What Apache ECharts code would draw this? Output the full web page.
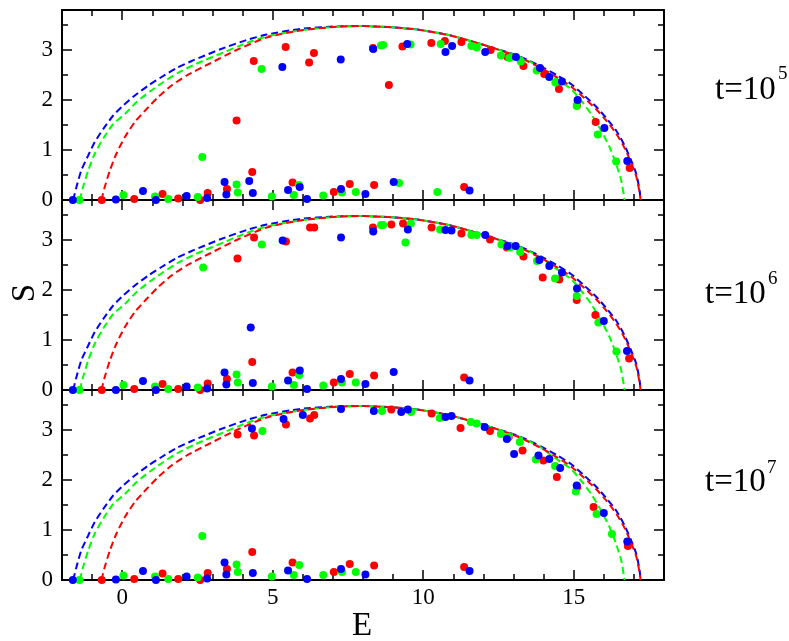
<!DOCTYPE html>
<html>
<head>
<meta charset="utf-8">
<script src="https://cdn.jsdelivr.net/npm/echarts@6/dist/echarts.min.js"></script>
<style>
html,body{margin:0;padding:0;background:#fff;}
#chart{width:789px;height:641px;}
</style>
</head>
<body>
<div id="chart"></div>
<script>
// ---- axis ticks ----
const xMajorTicks = [0, 5, 10, 15];
const xMinorTicks = [-1, 1, 2, 3, 4, 6, 7, 8, 9, 11, 12, 13, 14, 16, 17];
const yMajorTicks = [0, 1, 2, 3];
const yMinorTicks = [0.5, 1.5, 2.5, 3.5];
const panelExponents = ['5', '6', '7'];

// ---- dashed curves (E, S), same in every panel ----
const blueCurve = [[-1.63,0],[-1.52,0.26],[-1.36,0.59],[-1.13,0.89],[-0.91,1.16],[-0.63,1.42],[-0.30,1.69],[0.03,1.89],[0.42,2.09],[0.87,2.29],[1.31,2.46],[1.81,2.64],[2.31,2.78],[2.75,2.89],[3.24,3.01],[4.13,3.20],[4.80,3.31],[5.91,3.42],[7.02,3.47],[7.91,3.48],[8.80,3.46],[9.80,3.41],[10.91,3.29],[12.02,3.10],[13.13,2.89],[13.47,2.80],[13.91,2.67],[14.46,2.49],[14.91,2.32],[15.35,2.09],[15.74,1.87],[16.08,1.64],[16.41,1.39],[16.69,1.09],[16.91,0.79],[17.08,0.52],[17.19,0.19],[17.22,0]];
const greenCurve = [[-1.41,0],[-1.30,0.26],[-1.13,0.59],[-0.91,0.93],[-0.63,1.23],[-0.30,1.52],[0.09,1.72],[0.48,1.96],[0.92,2.17],[1.37,2.36],[1.87,2.55],[2.37,2.70],[2.75,2.80],[3.24,2.92],[4.13,3.14],[4.80,3.27],[5.91,3.39],[7.02,3.46],[7.91,3.48],[8.80,3.46],[9.80,3.41],[10.91,3.29],[12.02,3.10],[13.13,2.88],[13.91,2.65],[14.35,2.45],[14.91,2.22],[15.24,1.99],[15.58,1.72],[15.91,1.39],[16.19,1.06],[16.41,0.72],[16.58,0.39],[16.69,0]];
const redCurve = [[-0.69,0],[-0.58,0.26],[-0.41,0.59],[-0.19,0.93],[0.09,1.26],[0.42,1.56],[0.81,1.82],[1.20,2.06],[1.64,2.29],[2.14,2.49],[2.91,2.73],[3.80,3.00],[4.80,3.25],[5.91,3.39],[7.02,3.46],[7.91,3.48],[8.80,3.46],[9.80,3.41],[10.91,3.29],[12.02,3.10],[13.13,2.87],[13.91,2.64],[14.46,2.45],[14.91,2.27],[15.35,2.04],[15.74,1.82],[16.08,1.59],[16.41,1.33],[16.69,1.04],[16.91,0.74],[17.08,0.47],[17.19,0.15],[17.22,0]];

// ---- panel 1 (t=10^5) points ----
const p1Red = [[-0.68,0],[0.40,0.02],[1.34,0.12],[1.86,0.03],[2.59,0],[2.84,0.14],[3.48,0.22],[3.80,1.59],[4.32,0.56],[4.37,2.78],[5.43,3.06],[5.66,0.35],[6.21,2.75],[6.37,2.94],[7.03,0.16],[7.56,0.32],[8.33,3.04],[8.37,0.30],[8.86,2.30],[9.31,3.07],[10.27,3.14],[10.72,3.18],[11.27,3.16],[11.36,0.26],[12.24,3.00],[12.80,2.86],[13.33,2.68],[14.02,2.52],[14.51,2.22],[15.11,1.89],[15.73,1.56],[16.86,0.64]];
const p1Green = [[-1.42,0],[0.04,0.10],[1.09,0.07],[1.53,0.02],[2.51,0.06],[2.66,0.86],[3.80,0.31],[3.84,0.15],[4.63,2.62],[4.97,0.07],[5.70,0.10],[5.87,0.30],[6.68,0.09],[7.30,0.15],[7.76,0.16],[8.60,3.09],[8.67,3.10],[9.20,0.34],[9.58,3.11],[10.47,0.16],[10.58,3.12],[11.60,3.08],[11.78,3.05],[12.58,2.89],[12.86,2.84],[13.24,2.77],[13.77,2.59],[14.39,2.35],[15.10,1.88],[15.80,1.31],[16.41,0.77]];
const p1Blue = [[-1.64,0],[-0.21,0.01],[0.69,0.18],[1.12,0],[2.14,0.08],[2.82,0.04],[3.40,0.36],[3.46,0.11],[4.22,0.38],[4.34,0.14],[5.32,2.66],[5.51,0.20],[5.90,0.26],[6.14,0.02],[7.26,2.81],[7.27,0.22],[8.08,0.12],[8.34,3.02],[9.02,0.36],[9.47,3.12],[10.74,2.96],[10.96,3.08],[11.54,0.19],[12.06,2.96],[13.08,2.86],[13.88,2.64],[14.19,2.46],[14.61,2.37],[15.13,2.00],[16.02,1.44],[16.78,0.78]];

// ---- panel 2 (t=10^6) points ----
const p2Red = [[-0.68,0],[0.40,0.02],[1.34,0.12],[1.86,0.02],[2.59,0],[2.84,0.13],[3.48,0.22],[3.83,2.63],[4.32,0.56],[4.38,3.05],[5.44,2.97],[5.66,0.35],[6.24,3.25],[6.38,3.25],[7.03,0.15],[7.56,0.32],[8.33,3.25],[8.37,0.29],[8.94,3.31],[9.33,3.33],[10.28,3.25],[11.27,3.13],[11.36,0.25],[12.22,3.01],[12.78,2.85],[13.33,2.67],[13.97,2.25],[14.52,2.21],[15.10,1.80],[15.72,1.50],[16.84,0.63]];
const p2Green = [[-1.42,0],[0.04,0.10],[1.09,0.07],[1.53,0.02],[2.51,0.05],[2.69,2.45],[3.80,0.31],[3.84,0.15],[4.64,2.91],[4.97,0.07],[5.70,0.10],[5.88,0.30],[6.68,0.09],[7.30,0.15],[7.76,0.15],[8.60,3.30],[8.67,3.30],[9.41,2.95],[9.59,3.33],[10.56,3.21],[11.60,3.10],[11.77,3.10],[12.60,2.91],[12.88,2.85],[13.22,2.76],[13.78,2.58],[14.38,2.23],[15.10,1.88],[15.82,1.35],[16.42,0.77]];
const p2Blue = [[-1.64,0],[-0.21,0],[0.69,0.18],[1.12,0],[2.14,0.07],[2.82,0.03],[3.40,0.35],[3.46,0.11],[4.27,1.25],[4.34,0.14],[5.33,2.99],[5.51,0.19],[5.90,0.39],[6.14,0.02],[7.27,3.05],[7.27,0.22],[8.08,0.12],[8.34,3.17],[9.02,0.36],[9.49,3.21],[10.74,3.20],[10.94,3.19],[11.54,0.19],[12.06,3.10],[12.80,2.88],[13.07,2.88],[13.86,2.60],[14.19,2.48],[14.61,2.35],[15.11,2.03],[16.00,1.38],[16.77,0.78]];

// ---- panel 3 (t=10^7) points ----
const p3Red = [[-0.68,0],[0.40,0.02],[1.34,0.13],[1.86,0.02],[2.59,0],[2.84,0.14],[3.48,0.22],[3.83,2.91],[4.32,0.56],[4.38,2.89],[5.44,3.11],[5.66,0.35],[6.24,3.23],[6.38,3.30],[7.03,0.16],[7.56,0.32],[8.37,0.29],[8.94,3.41],[10.28,3.33],[11.24,3.04],[11.36,0.26],[12.22,2.98],[12.84,2.86],[13.30,2.59],[13.99,2.39],[14.44,2.06],[15.12,1.86],[15.66,1.46],[16.80,0.68]];
const p3Green = [[-1.42,0],[0.04,0.09],[1.09,0.07],[1.53,0.02],[2.51,0.05],[2.66,0.88],[3.80,0.31],[3.84,0.16],[4.66,2.98],[4.97,0.07],[5.70,0.10],[5.88,0.30],[6.68,0.10],[7.30,0.16],[7.76,0.16],[8.63,3.38],[9.60,3.36],[10.55,3.24],[11.58,3.16],[11.77,3.13],[12.58,2.92],[12.82,2.86],[13.21,2.76],[13.74,2.41],[14.38,2.28],[15.07,1.77],[15.76,1.32],[16.27,0.92]];
const p3Blue = [[-1.64,0],[-0.21,0.01],[0.69,0.18],[1.12,0],[2.14,0.07],[2.82,0.03],[3.40,0.35],[3.46,0.11],[4.31,3.03],[4.34,0.14],[5.36,3.22],[5.51,0.19],[6.00,3.30],[6.14,0.02],[7.27,3.42],[7.27,0.22],[8.08,0.11],[8.36,3.38],[9.27,3.36],[9.49,3.41],[10.74,3.26],[10.94,3.28],[11.54,0.18],[12.04,3.06],[12.78,2.82],[13.02,2.52],[13.83,2.49],[14.19,2.42],[14.55,2.24],[15.10,1.89],[16.00,1.34],[16.78,0.77]];

const panelPoints = [
  [p1Red, p1Green, p1Blue],
  [p2Red, p2Green, p2Blue],
  [p3Red, p3Green, p3Blue]
];

// ---- layout / style ----
const RED = '#ff0000', GREEN = '#00ff00', BLUE = '#0000ff';
const FONT = '"Liberation Serif", "DejaVu Serif", serif';
const gridTops = [10, 200, 390];
const gridH = 190;
const gridL = 62, gridW = 602;

const grids = [], xAxes = [], yAxes = [], series = [];

function mkX(g, pos, ticks, len, line, labels) {
  xAxes.push({
    type: 'value', gridIndex: g, position: pos, min: -2, max: 18,
    axisLine: { show: line, onZero: false, lineStyle: { color: '#000', width: 2 } },
    axisTick: { show: true, inside: true, length: len, customValues: ticks, lineStyle: { color: '#000', width: 1.5 } },
    minorTick: { show: false },
    axisLabel: labels ? { show: true, customValues: ticks, color: '#000', fontSize: 23, fontFamily: FONT, margin: 6 } : { show: false },
    splitLine: { show: false }
  });
}
function mkY(g, pos, ticks, len, line, labels) {
  yAxes.push({
    type: 'value', gridIndex: g, position: pos, min: 0, max: 3.8,
    axisLine: { show: line, onZero: false, lineStyle: { color: '#000', width: 2 } },
    axisTick: { show: true, inside: true, length: len, customValues: ticks, lineStyle: { color: '#000', width: 1.5 } },
    minorTick: { show: false },
    axisLabel: labels ? { show: true, customValues: ticks, color: '#000', fontSize: 23, fontFamily: FONT, margin: 9 } : { show: false },
    splitLine: { show: false }
  });
}

for (let g = 0; g < 3; g++) {
  grids.push({ left: gridL, top: gridTops[g], width: gridW, height: gridH, containLabel: false, outerBoundsMode: 'none' });
  const xi = xAxes.length;
  mkX(g, 'bottom', xMajorTicks, 10, true, g === 2);
  mkX(g, 'bottom', xMinorTicks, 6, false, false);
  mkX(g, 'top', xMajorTicks, 10, true, false);
  mkX(g, 'top', xMinorTicks, 6, false, false);
  const yi = yAxes.length;
  mkY(g, 'left', yMajorTicks, 10, true, true);
  mkY(g, 'left', yMinorTicks, 6, false, false);
  mkY(g, 'right', yMajorTicks, 10, true, false);
  mkY(g, 'right', yMinorTicks, 6, false, false);

  [[blueCurve, BLUE], [greenCurve, GREEN], [redCurve, RED]].forEach(([d, c]) => {
    series.push({
      type: 'line', xAxisIndex: xi, yAxisIndex: yi, data: d,
      smooth: 0.2, showSymbol: false, symbol: 'none', silent: true, z: 2,
      lineStyle: { color: c, width: 2, type: [7, 4] }
    });
  });
  const pts = panelPoints[g];
  [[pts[0], RED], [pts[1], GREEN], [pts[2], BLUE]].forEach(([d, c], k) => {
    series.push({
      type: 'scatter', xAxisIndex: xi, yAxisIndex: yi, data: d,
      symbol: 'circle', symbolSize: 8, silent: true, z: 3 + k,
      itemStyle: { color: c, opacity: 1 }
    });
  });
}

const labelPos = [[715, 90, 778, 74], [705, 294, 768, 279], [705, 482, 767, 468]];
const graphics = [];
labelPos.forEach((p, i) => {
  graphics.push({ type: 'text', x: p[0], y: p[1], style: { text: 't=10', font: '33px ' + FONT, fill: '#000', align: 'left', verticalAlign: 'middle', textAlign: 'left', textVerticalAlign: 'middle' } });
  graphics.push({ type: 'text', x: p[2], y: p[3], style: { text: panelExponents[i], font: '19px ' + FONT, fill: '#000', align: 'left', verticalAlign: 'middle', textAlign: 'left', textVerticalAlign: 'middle' } });
});
graphics.push({ type: 'text', x: 362, y: 626, style: { text: 'E', font: '33px ' + FONT, fill: '#000', align: 'center', verticalAlign: 'middle', textAlign: 'center', textVerticalAlign: 'middle' } });
graphics.push({ type: 'text', x: 25, y: 293, rotation: Math.PI / 2, style: { text: 'S', font: '33px ' + FONT, fill: '#000', align: 'center', verticalAlign: 'middle', textAlign: 'center', textVerticalAlign: 'middle' } });

const chart = echarts.init(document.getElementById('chart'), null, { renderer: 'canvas' });
chart.setOption({
  animation: false,
  backgroundColor: '#fff',
  grid: grids,
  xAxis: xAxes,
  yAxis: yAxes,
  series: series,
  graphic: graphics
});
</script>
</body>
</html>
